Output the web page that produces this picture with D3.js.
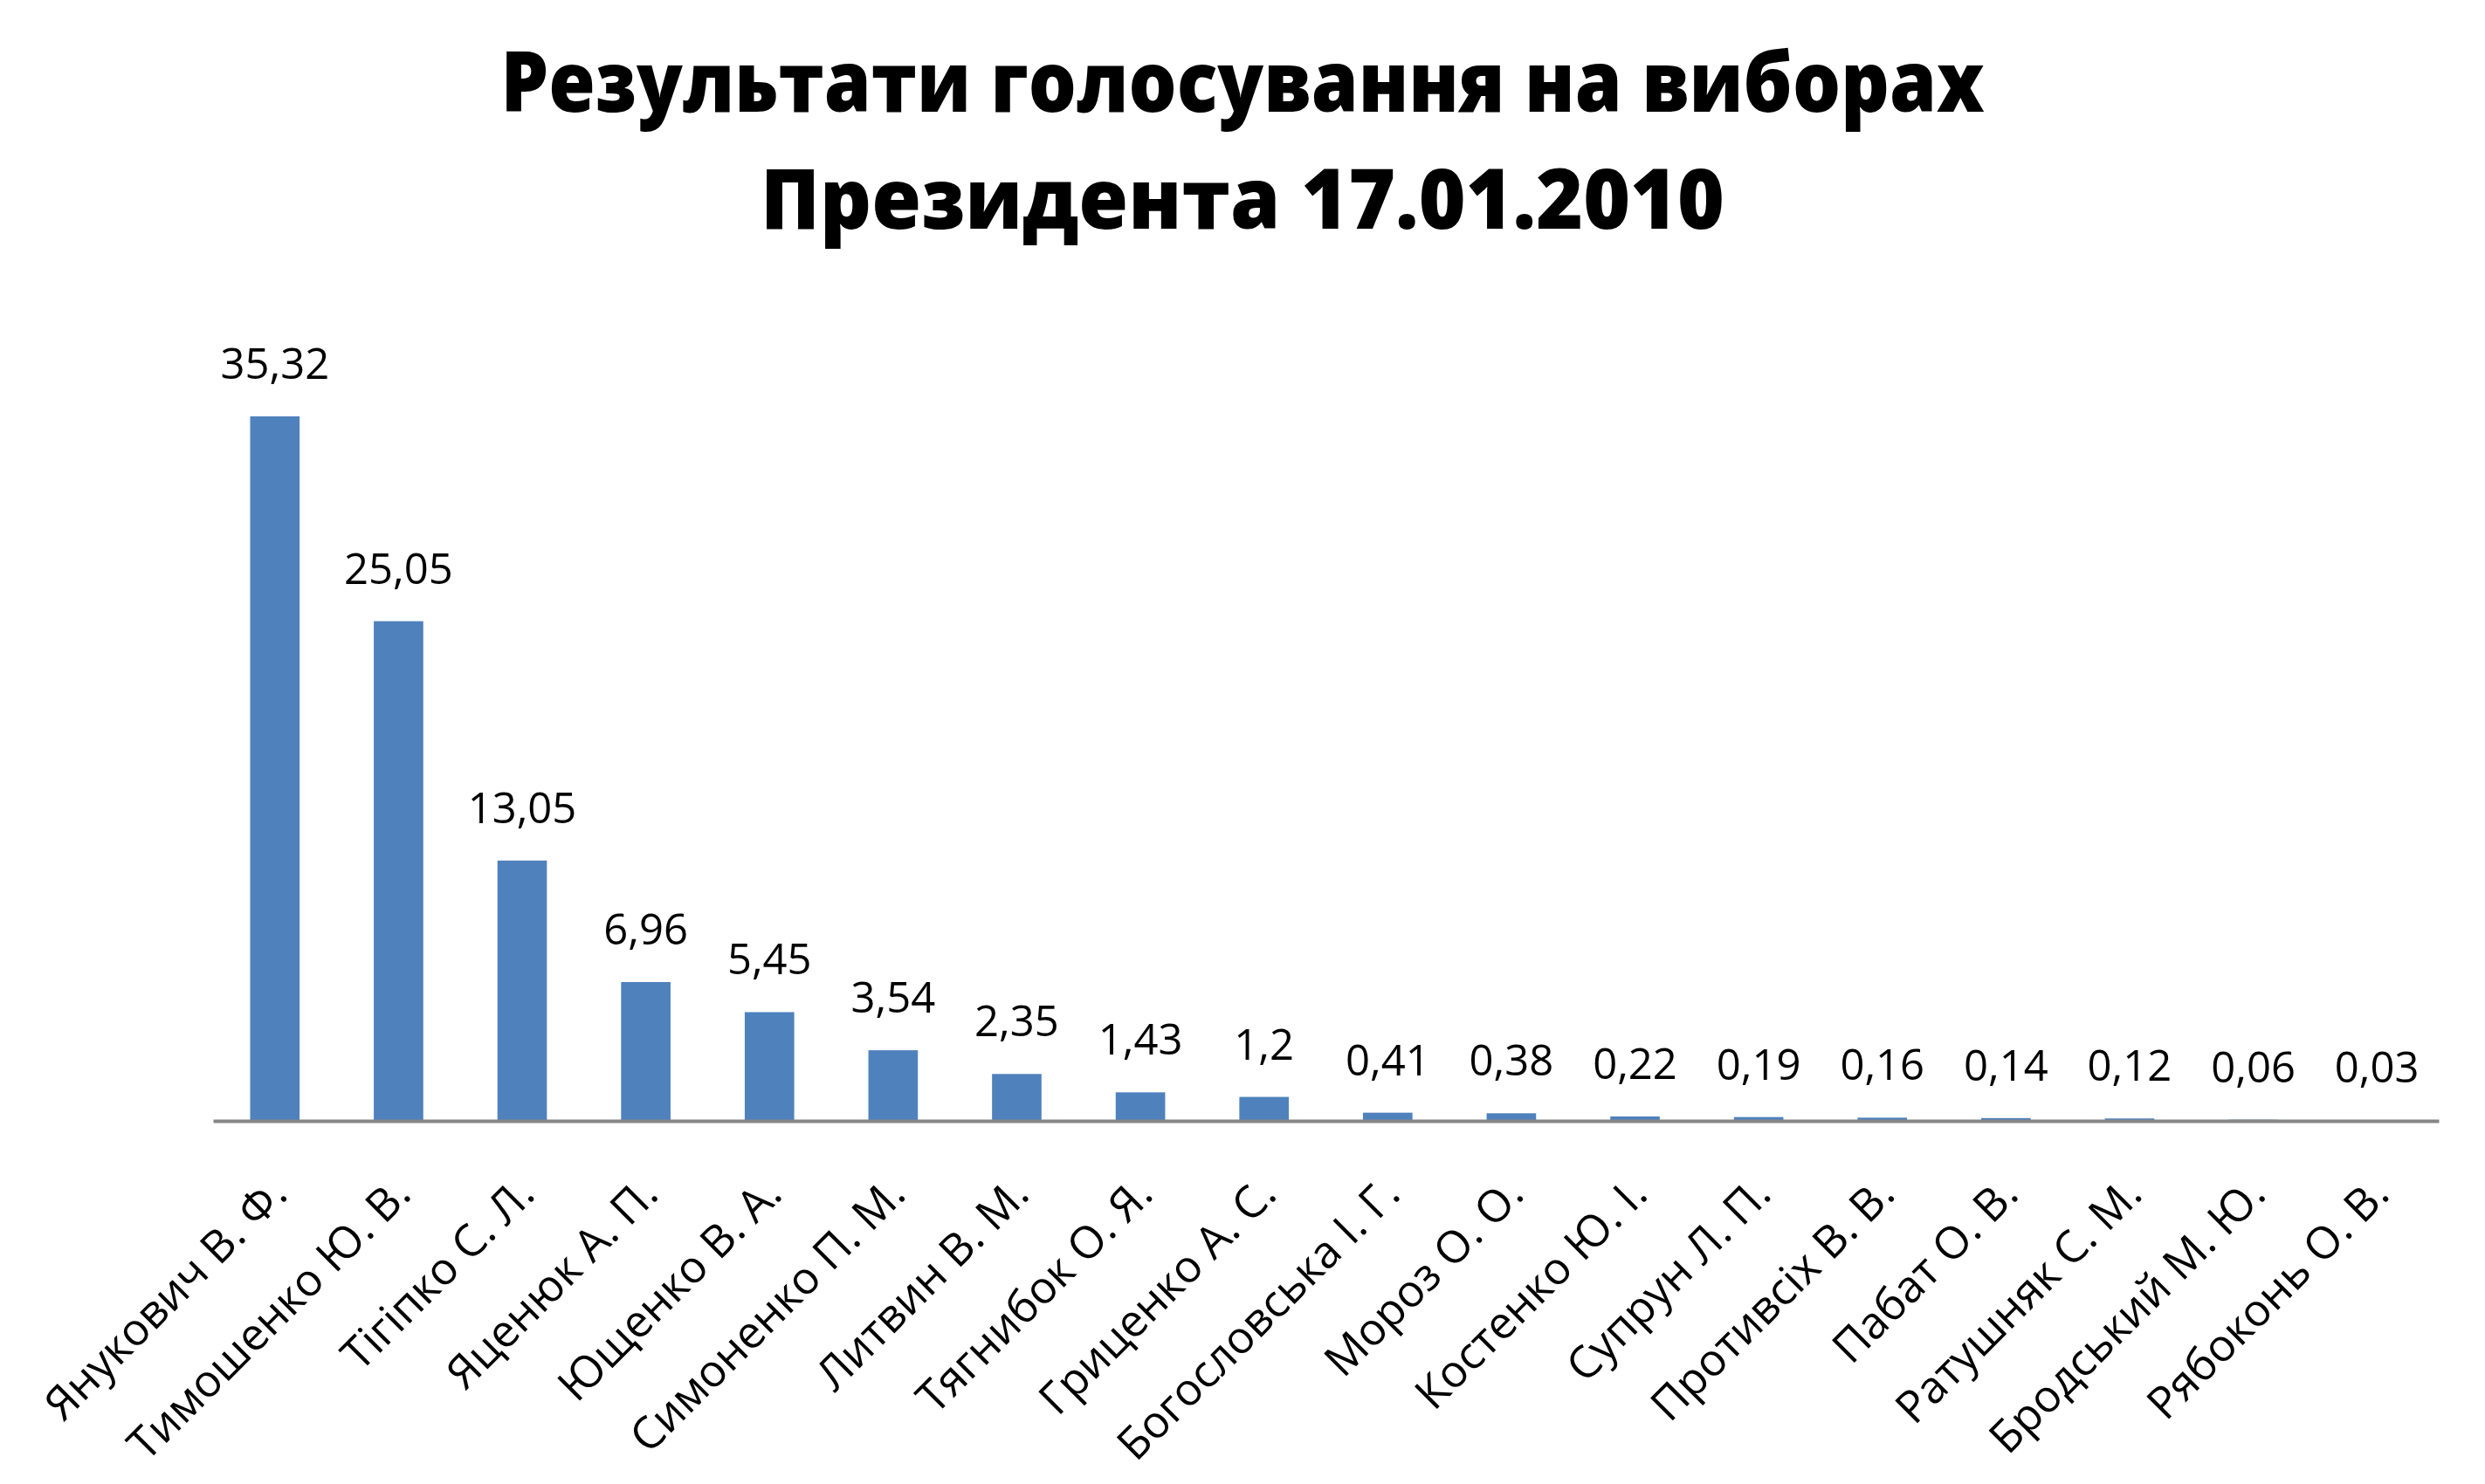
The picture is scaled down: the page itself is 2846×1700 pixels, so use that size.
<!DOCTYPE html>
<html>
<head>
    <meta charset="utf-8">
    <script src="https://d3js.org/d3.v7.min.js"></script>
    <style>
        body { margin: 0; background: #fff; }
        text { font-family: "Open Sans", "Noto Sans", sans-serif; fill: #000; }
    </style>
</head>
<body>
<svg id="chart"></svg>
<script>
    // data
    const candidates = [
        "Янукович В. Ф.", "Тимошенко Ю. В.", "Тігіпко С. Л.", "Яценюк А. П.",
        "Ющенко В. А.", "Симоненко П. М.", "Литвин В. М.", "Тягнибок О. Я.",
        "Гриценко А. С.", "Богословська І. Г.", "Мороз О. О.", "Костенко Ю. І.",
        "Супрун Л. П.", "Противсіх В. В.", "Пабат О. В.", "Ратушняк С. М.",
        "Бродський М. Ю.", "Рябоконь О. В."
    ];
    const votes = [35.32, 25.05, 13.05, 6.96, 5.45, 3.54, 2.35, 1.43, 1.2,
        0.41, 0.38, 0.22, 0.19, 0.16, 0.14, 0.12, 0.06, 0.03];
    const titleLines = ["Результати голосування на виборах", "Президента 17.01.2010"];
    const titleWidths = [1699, 1104];

    const W = 2846, H = 1700;
    const margin = { top: 370, right: 53, bottom: 416, left: 244 };
    const width = W - margin.left - margin.right,
        height = H - margin.top - margin.bottom;

    const svg = d3.select("#chart")
        .attr("width", W)
        .attr("height", H);

    // title
    svg.append("g")
        .selectAll("text")
        .data(titleLines)
        .join("text")
        .attr("x", W / 2)
        .attr("y", (d, i) => 128 + i * 134)
        .attr("text-anchor", "middle")
        .attr("textLength", (d, i) => titleWidths[i])
        .attr("lengthAdjust", "spacingAndGlyphs")
        .style("font-weight", "800")
        .style("font-size", "95px")
        .text(d => d);

    const g = svg.append("g")
        .attr("transform", "translate(" + margin.left + "," + margin.top + ")");

    const x = d3.scaleBand()
        .domain(candidates)
        .range([0, width])
        .paddingInner(0.6)
        .paddingOuter(0.3);

    const y = d3.scaleLinear()
        .domain([0, 40])
        .range([height, 0]);

    // bars
    g.append("g")
        .selectAll("rect")
        .data(votes)
        .join("rect")
        .attr("x", (d, i) => x(candidates[i]))
        .attr("y", d => y(d))
        .attr("width", x.bandwidth())
        .attr("height", d => height - y(d))
        .attr("fill", "#4f81bd");

    // value labels
    g.append("g")
        .selectAll("text")
        .data(votes)
        .join("text")
        .attr("x", (d, i) => x(candidates[i]) + x.bandwidth() / 2)
        .attr("y", d => y(d) - 43)
        .attr("text-anchor", "middle")
        .style("font-size", "49px")
        .text(d => String(d).replace(".", ","));

    // x axis
    const xAxis = g.append("g")
        .attr("transform", "translate(0," + height + ")")
        .call(d3.axisBottom(x).tickSize(0).tickPadding(0));

    xAxis.select(".domain")
        .attr("stroke", "#868686")
        .attr("stroke-width", 4);

    xAxis.selectAll(".tick text")
        .attr("transform", "translate(4,74) rotate(-45)")
        .attr("text-anchor", "end")
        .attr("x", 0)
        .attr("y", 0)
        .attr("dy", "0.35em")
        .style("font-family", "'Open Sans', 'Noto Sans', sans-serif")
        .style("font-size", "51px")
        .attr("fill", "#000");
</script>
</body>
</html>
